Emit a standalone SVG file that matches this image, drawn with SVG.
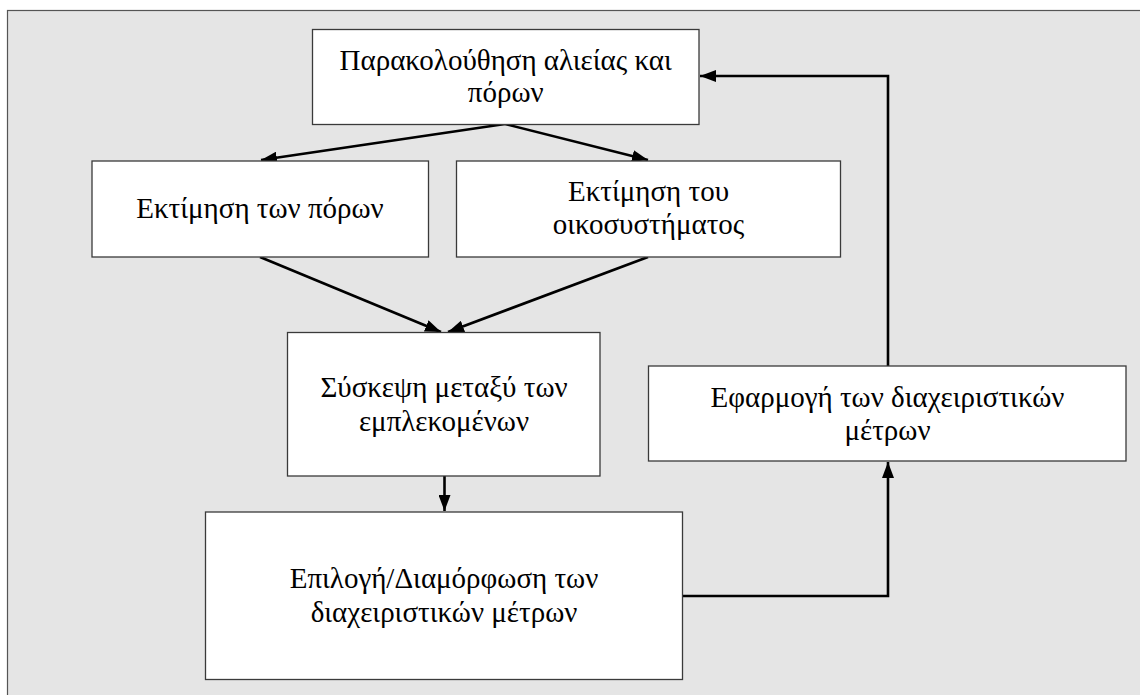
<svg xmlns="http://www.w3.org/2000/svg" width="1140" height="695" viewBox="0 0 1140 695">
<style>
.box{fill:#fff;stroke:#3a3a3a;stroke-width:1.3}
.t{font-family:'Liberation Serif','DejaVu Serif',serif;font-size:29px;fill:#000;text-anchor:middle}
.c{fill:none;stroke:#000;stroke-width:2.6}
</style>
<defs>
<marker id="ah" markerWidth="16" markerHeight="12" refX="16" refY="6" orient="auto" markerUnits="userSpaceOnUse">
<path d="M0,0 L16,6 L0,12 Z" fill="#000"/>
</marker>
</defs>
<rect x="7.5" y="10.5" width="1140" height="700" fill="#e5e5e5" stroke="#555" stroke-width="1.2"/>
<g id="connectors">
<line class="c" x1="505" y1="124" x2="261" y2="160" marker-end="url(#ah)"/>
<line class="c" x1="505" y1="124" x2="648" y2="160" marker-end="url(#ah)"/>
<line class="c" x1="260" y1="257" x2="441" y2="332" marker-end="url(#ah)"/>
<line class="c" x1="648" y1="257" x2="448" y2="332" marker-end="url(#ah)"/>
<line class="c" x1="444.5" y1="476" x2="444.5" y2="511" marker-end="url(#ah)"/>
<polyline class="c" points="683,596 888,596 888,462" marker-end="url(#ah)"/>
<polyline class="c" points="888,366 888,76 700,76" marker-end="url(#ah)"/>
</g>
<g id="n1">
<rect class="box" x="312.5" y="29.5" width="386.5" height="95"/>
<text class="t" x="505.7" y="70">Παρακολούθηση αλιείας και</text>
<text class="t" x="505.7" y="102">πόρων</text>
</g>
<g id="n2">
<rect class="box" x="92" y="161" width="336.5" height="96"/>
<text class="t" x="260" y="218">Εκτίμηση των πόρων</text>
</g>
<g id="n3">
<rect class="box" x="456.5" y="161" width="384" height="96"/>
<text class="t" x="648.5" y="201">Εκτίμηση του</text>
<text class="t" x="648.5" y="234">οικοσυστήματος</text>
</g>
<g id="n4">
<rect class="box" x="287.5" y="332.5" width="312.5" height="143.5"/>
<text class="t" x="444" y="397">Σύσκεψη μεταξύ των</text>
<text class="t" x="444" y="431">εμπλεκομένων</text>
</g>
<g id="n5">
<rect class="box" x="205.5" y="512" width="477" height="167.5"/>
<text class="t" x="444" y="588">Επιλογή/Διαμόρφωση των</text>
<text class="t" x="444" y="622">διαχειριστικών μέτρων</text>
</g>
<g id="n6">
<rect class="box" x="648.5" y="366" width="477.5" height="95"/>
<text class="t" x="887.5" y="407">Εφαρμογή των διαχειριστικών</text>
<text class="t" x="887.5" y="440">μέτρων</text>
</g>
</svg>
